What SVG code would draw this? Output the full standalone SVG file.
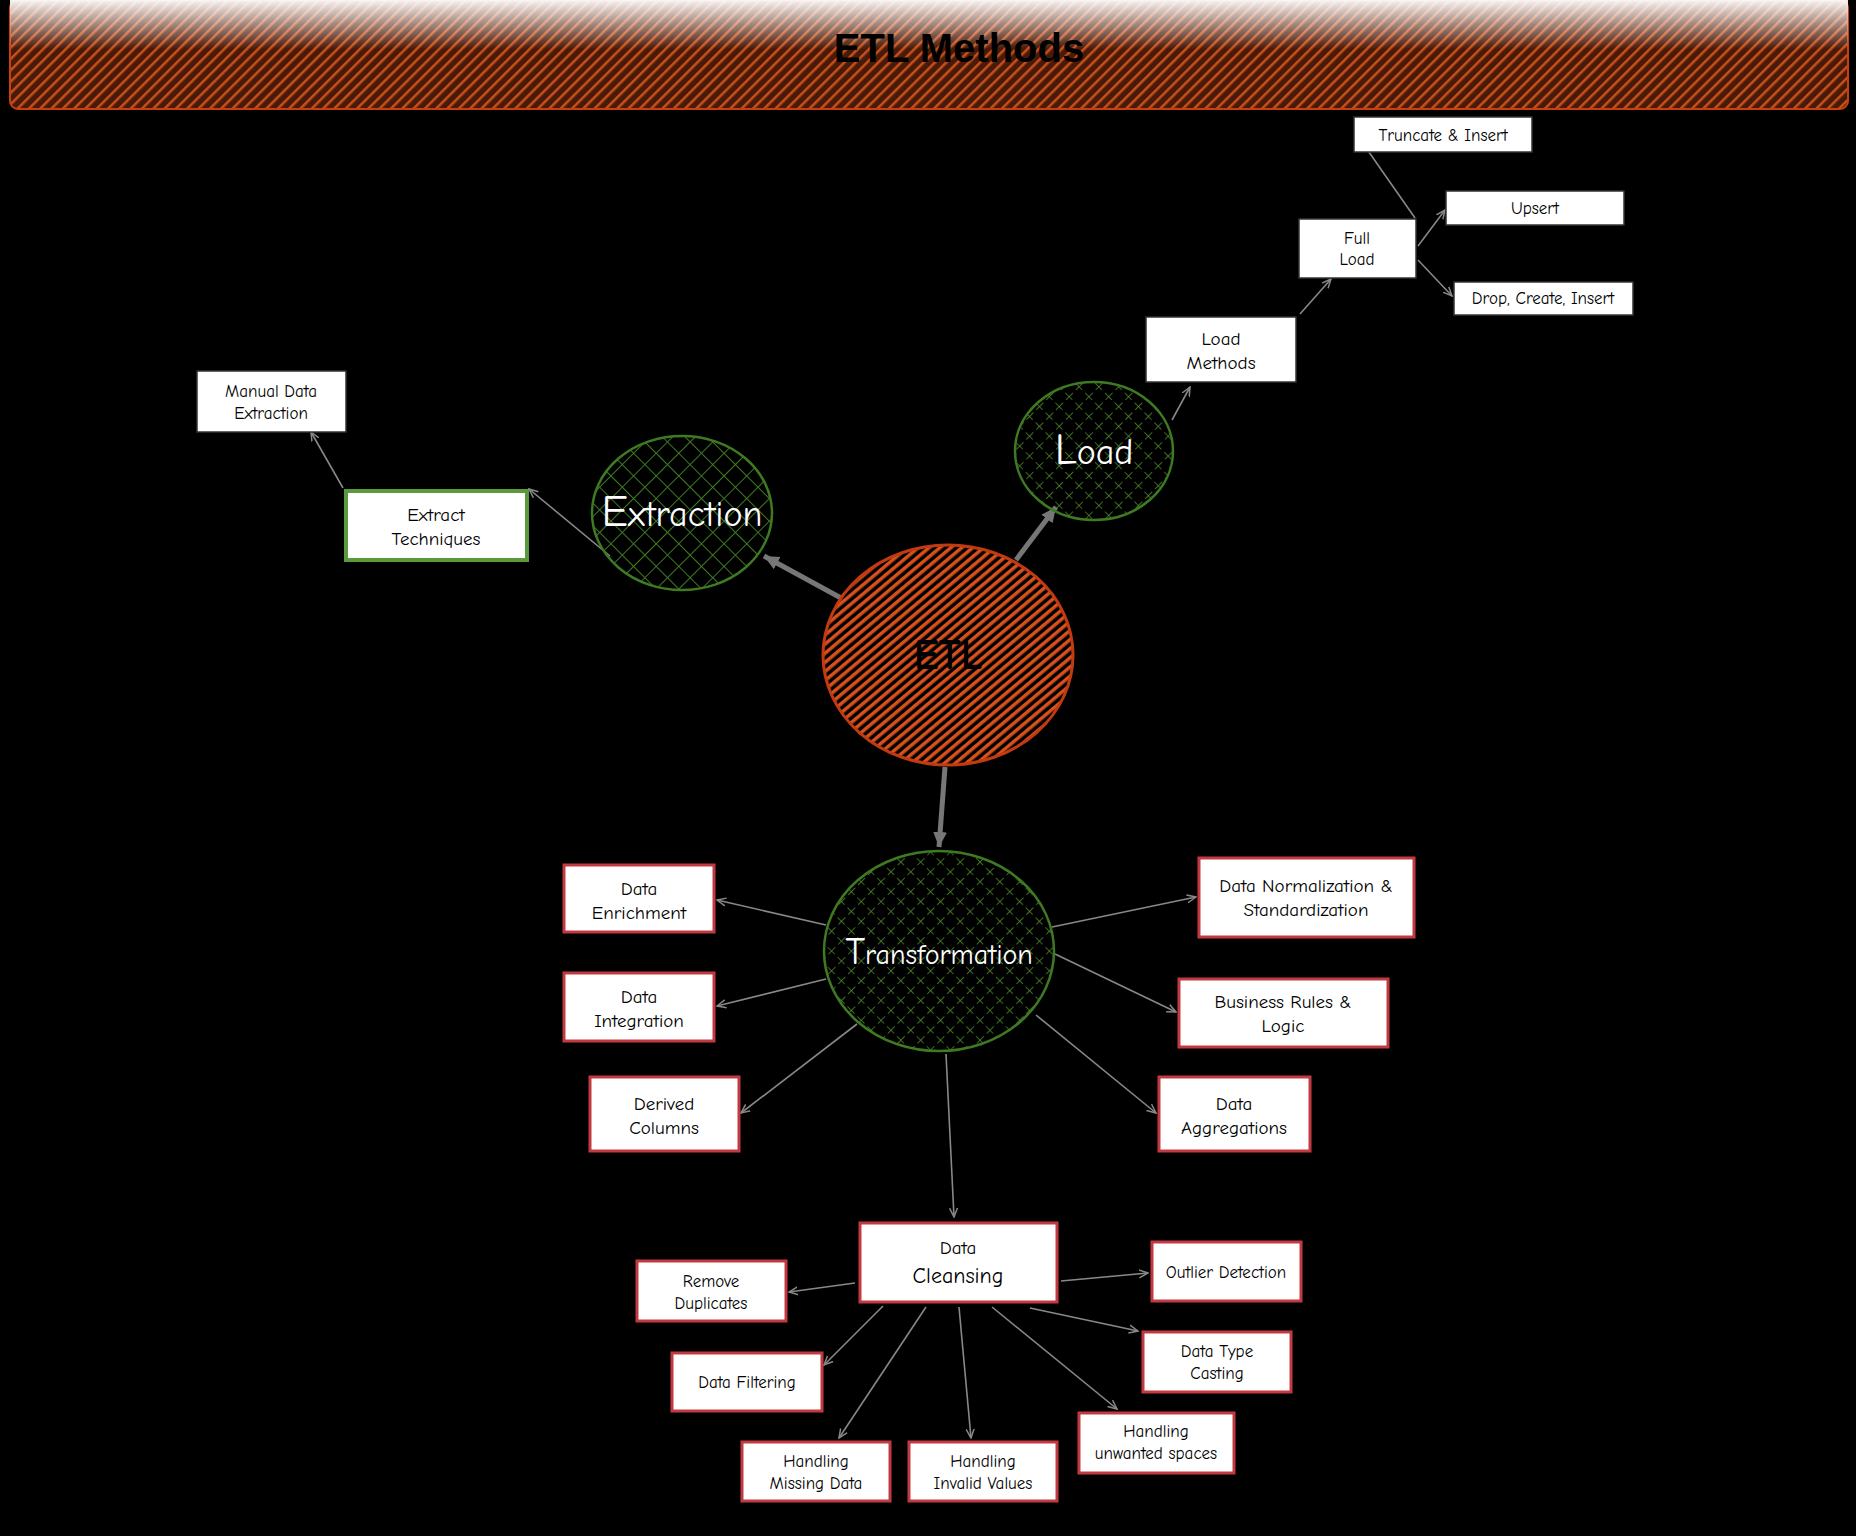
<svg xmlns="http://www.w3.org/2000/svg" width="1856" height="1536" viewBox="0 0 1856 1536">
<style>
text{font-family:"Comic Neue","Liberation Sans",sans-serif;text-anchor:middle;fill:#000}
.b{fill:#fff;stroke:#c23a3f;stroke-width:3}
.g{fill:#fff;stroke:#5a9a3c;stroke-width:4}
.w{fill:#fff;stroke:#333;stroke-width:1.5}
.t{font-size:19px}
.s{font-size:17px}
.c{fill:#fff;font-size:36px}
.ln{stroke:#888;stroke-width:1.6;fill:none;marker-end:url(#a)}
.th{stroke:#777;stroke-width:5;fill:none;marker-end:url(#A)}
</style>
<defs>
<marker id="a" markerWidth="10" markerHeight="10" refX="9" refY="5" orient="auto" markerUnits="userSpaceOnUse"><path d="M0,1L9,5L0,9" fill="none" stroke="#888" stroke-width="1.5"/></marker>
<marker id="A" markerWidth="18" markerHeight="18" refX="15" refY="8" orient="auto" markerUnits="userSpaceOnUse"><path d="M0,1L15,8L0,15Z" fill="#777"/></marker>
<pattern id="ho" width="7" height="7" patternUnits="userSpaceOnUse" patternTransform="rotate(-40)"><rect width="7" height="7" fill="#000"/><rect width="7" height="3.5" fill="#d8501c"/></pattern>
<pattern id="hx" width="16" height="16" patternUnits="userSpaceOnUse" patternTransform="rotate(45)"><path d="M0,0H16M0,0V16" stroke="#3e7a22" stroke-width="2"/></pattern>
<pattern id="hd" width="14" height="14" patternUnits="userSpaceOnUse" patternTransform="rotate(45)"><path d="M0,0H16M0,0V16" stroke="#4e8a2a" stroke-width="1.6" stroke-dasharray="5 4"/></pattern>
<pattern id="ht" width="8" height="8" patternUnits="userSpaceOnUse" patternTransform="rotate(-45)"><rect width="8" height="8" fill="#4a1a08"/><rect width="8" height="2.5" fill="#c8501c"/></pattern>
<linearGradient id="tg" x1="0" y1="0" x2="0" y2="1"><stop offset="0" stop-color="#fff" stop-opacity="0.95"/><stop offset="0.45" stop-color="#fff" stop-opacity="0"/></linearGradient>
</defs>
<rect width="1856" height="1536" fill="#000"/>
<g id="title">
<rect x="10" y="0" width="1838" height="109" rx="8" fill="url(#ht)" stroke="#c84010" stroke-width="2"/>
<rect x="10" y="0" width="1838" height="109" fill="url(#tg)"/>
<text x="959" y="62" style="font-family:'Liberation Sans',sans-serif;font-weight:bold;font-size:40px">ETL Methods</text>
</g>
<g id="connectors">
<path class="th" d="M841,598L764,556"/>
<path class="th" d="M1016,560L1056,507"/>
<path class="th" d="M945,767L939,847"/>
<path class="ln" d="M610,556L529,489"/>
<path class="ln" d="M343,488L311,432"/>
<path class="ln" d="M1172,420L1190,387"/>
<path class="ln" d="M1300,314L1331,279"/>
<path class="ln" d="M1415,218L1357,135"/>
<path class="ln" d="M1418,246L1445,210"/>
<path class="ln" d="M1418,260L1452,296"/>
<path class="ln" d="M826,925L717,900"/>
<path class="ln" d="M826,979L717,1006"/>
<path class="ln" d="M857,1024L741,1113"/>
<path class="ln" d="M1052,927L1196,897"/>
<path class="ln" d="M1055,954L1176,1012"/>
<path class="ln" d="M1036,1015L1156,1113"/>
<path class="ln" d="M946,1054L954,1217"/>
<path class="ln" d="M855,1283L789,1292"/>
<path class="ln" d="M883,1306L824,1365"/>
<path class="ln" d="M926,1307L839,1438"/>
<path class="ln" d="M959,1307L971,1438"/>
<path class="ln" d="M992,1307L1117,1409"/>
<path class="ln" d="M1061,1281L1148,1273"/>
<path class="ln" d="M1030,1308L1138,1331"/>
</g>
<g id="etl"><ellipse cx="948" cy="655" rx="125" ry="110" fill="url(#ho)" stroke="#c23a10" stroke-width="3"/><text x="948" y="669" style="font-size:42px;font-weight:bold">ETL</text></g>
<g id="extraction"><ellipse cx="682" cy="513" rx="90" ry="77" fill="url(#hx)" stroke="#3e7a22" stroke-width="2.5"/><text class="c" x="682" y="526"><tspan font-size="44">E</tspan>xtraction</text></g>
<g id="load"><ellipse cx="1094" cy="451" rx="79" ry="69" fill="url(#hd)" stroke="#3e7a22" stroke-width="2.5"/><text class="c" x="1094" y="464"><tspan font-size="44">L</tspan>oad</text></g>
<g id="transformation"><ellipse cx="939" cy="951" rx="115" ry="100" fill="url(#hd)" stroke="#3e7a22" stroke-width="2.5"/><text class="c" x="939" y="964" style="font-size:28px"><tspan font-size="38">T</tspan>ransformation</text></g>
<g id="manual"><rect class="w" x="197" y="371" width="149" height="61"/><text class="s" x="271" y="397">Manual Data</text><text class="s" x="271" y="419">Extraction</text></g>
<g id="extract-tech"><rect class="g" x="346" y="491" width="181" height="69"/><text class="t" x="436" y="521">Extract</text><text class="t" x="436" y="545">Techniques</text></g>
<g id="load-methods"><rect class="w" x="1146" y="317" width="150" height="65"/><text class="t" x="1221" y="345">Load</text><text class="t" x="1221" y="369">Methods</text></g>
<g id="full-load"><rect class="w" x="1299" y="219" width="117" height="59"/><text class="s" x="1357" y="244">Full</text><text class="s" x="1357" y="265">Load</text></g>
<g id="truncate"><rect class="w" x="1354" y="117" width="178" height="35"/><text class="s" x="1443" y="141">Truncate &amp; Insert</text></g>
<g id="upsert"><rect class="w" x="1446" y="191" width="178" height="34"/><text class="s" x="1535" y="214">Upsert</text></g>
<g id="drop"><rect class="w" x="1454" y="282" width="179" height="33"/><text class="s" x="1543" y="304">Drop, Create, Insert</text></g>
<g id="enrichment"><rect class="b" x="564" y="865" width="150" height="67"/><text class="t" x="639" y="895">Data</text><text class="t" x="639" y="919">Enrichment</text></g>
<g id="integration"><rect class="b" x="564" y="973" width="150" height="68"/><text class="t" x="639" y="1003">Data</text><text class="t" x="639" y="1027">Integration</text></g>
<g id="derived"><rect class="b" x="590" y="1077" width="149" height="74"/><text class="t" x="664" y="1110">Derived</text><text class="t" x="664" y="1134">Columns</text></g>
<g id="normalization"><rect class="b" x="1199" y="858" width="215" height="79"/><text class="t" x="1306" y="892">Data Normalization &amp;</text><text class="t" x="1306" y="916">Standardization</text></g>
<g id="business"><rect class="b" x="1179" y="979" width="209" height="68"/><text class="t" x="1283" y="1008">Business Rules &amp;</text><text class="t" x="1283" y="1032">Logic</text></g>
<g id="aggregations"><rect class="b" x="1159" y="1077" width="151" height="74"/><text class="t" x="1234" y="1110">Data</text><text class="t" x="1234" y="1134">Aggregations</text></g>
<g id="cleansing"><rect class="b" x="860" y="1223" width="197" height="79"/><text class="t" x="958" y="1254">Data</text><text x="958" y="1283" style="font-size:22px">Cleansing</text></g>
<g id="duplicates"><rect class="b" x="637" y="1261" width="149" height="60"/><text class="s" x="711" y="1287">Remove</text><text class="s" x="711" y="1309">Duplicates</text></g>
<g id="filtering"><rect class="b" x="672" y="1353" width="150" height="58"/><text class="s" x="747" y="1388">Data Filtering</text></g>
<g id="missing"><rect class="b" x="742" y="1442" width="148" height="59"/><text class="s" x="816" y="1467">Handling</text><text class="s" x="816" y="1489">Missing Data</text></g>
<g id="invalid"><rect class="b" x="909" y="1442" width="148" height="59"/><text class="s" x="983" y="1467">Handling</text><text class="s" x="983" y="1489">Invalid Values</text></g>
<g id="unwanted"><rect class="b" x="1079" y="1413" width="155" height="60"/><text class="s" x="1156" y="1437">Handling</text><text class="s" x="1156" y="1459">unwanted spaces</text></g>
<g id="outlier"><rect class="b" x="1152" y="1242" width="149" height="59"/><text class="s" x="1226" y="1278">Outlier Detection</text></g>
<g id="casting"><rect class="b" x="1143" y="1332" width="148" height="60"/><text class="s" x="1217" y="1357">Data Type</text><text class="s" x="1217" y="1379">Casting</text></g>
</svg>
